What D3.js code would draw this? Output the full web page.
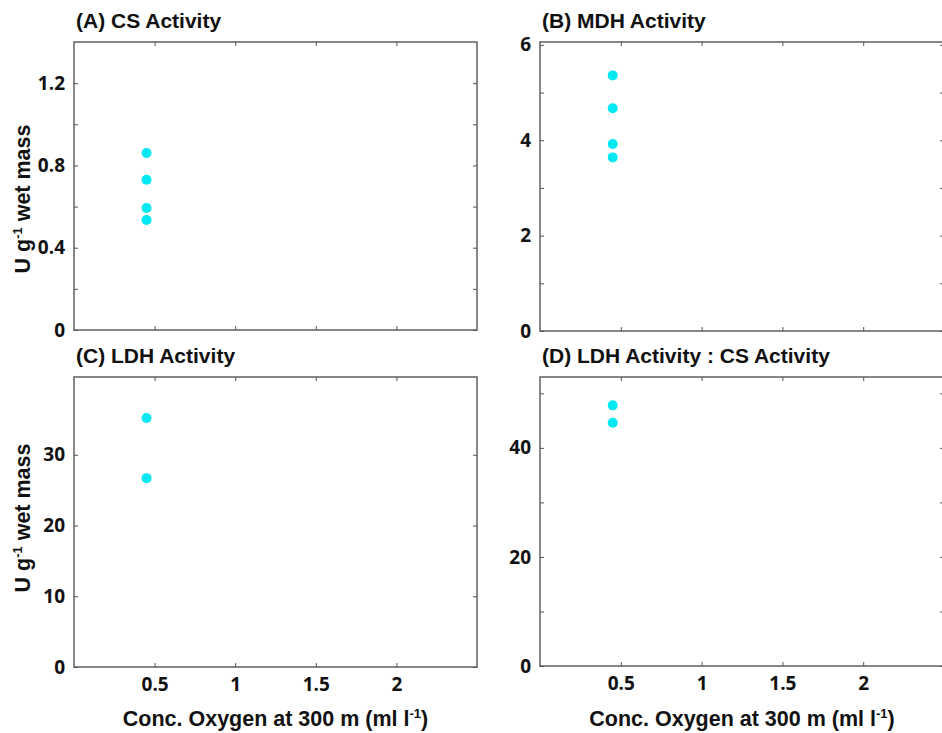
<!DOCTYPE html>
<html><head><meta charset="utf-8">
<script src="https://cdn.jsdelivr.net/npm/d3@7"></script>
<style>
html,body{margin:0;padding:0;background:#fff;}
svg{display:block;}
.title,.alabel{font-family:"Liberation Sans",Arial,sans-serif;font-weight:bold;fill:#111;}
.tick text{font-family:"Open Sans",sans-serif;font-weight:700;fill:#111;font-size:19px;}
</style>
</head><body>
<script>
// ---- data ----
const xTicks = [0.5, 1, 1.5, 2];
const xDomain = [0, 2.5];
const oxygen = 0.45;
const csValues = [0.86, 0.73, 0.593, 0.535];
const mdhValues = [5.36, 4.67, 3.92, 3.64];
const ldhValues = [35.2, 26.7];
const ratioValues = [47.8, 44.6];
const titles = ["(A) CS Activity", "(B) MDH Activity", "(C) LDH Activity", "(D) LDH Activity : CS Activity"];
const yDomains = [[0, 1.4], [0, 6.06], [0, 41], [0, 53]];
const yTicks = [[0, 0.2, 0.4, 0.6, 0.8, 1.0, 1.2], [0, 1, 2, 3, 4, 5, 6], [0, 10, 20, 30], [0, 10, 20, 30, 40, 50]];
const yTickLabels = [[0, 0.4, 0.8, 1.2], [0, 2, 4, 6], [0, 10, 20, 30], [0, 20, 40]];
const xLabel = "Conc. Oxygen at 300 m (ml l";
const yLabel = "U g";

const W = 942, H = 733;
const svg = d3.select("body").append("svg").attr("width", W).attr("height", H);

const panels = [
  {l: 74, r: 477, t: 42, b: 330, vals: csValues, ylab: true, xlab: false},
  {l: 540, r: 944, t: 42, b: 331, vals: mdhValues, ylab: false, xlab: false},
  {l: 74, r: 477, t: 377, b: 667, vals: ldhValues, ylab: true, xlab: true},
  {l: 540, r: 944, t: 377, b: 666, vals: ratioValues, ylab: false, xlab: true}
];

panels.forEach((p, i) => {
  const x = d3.scaleLinear().domain(xDomain).range([p.l, p.r]);
  const y = d3.scaleLinear().domain(yDomains[i]).range([p.b, p.t]);
  const g = svg.append("g");
  const lab = yTickLabels[i];
  const fmt = v => lab.some(L => Math.abs(L - v) < 1e-9) ? String(v) : "";

  // left axis
  g.append("g").attr("transform", `translate(${p.l},0)`)
    .call(d3.axisLeft(y).tickValues(yTicks[i]).tickSizeInner(-4).tickSizeOuter(0).tickPadding(9).tickFormat(fmt))
    .call(a => a.select(".domain").remove())
    .call(a => a.selectAll("line").attr("stroke", "#555"));
  // right axis ticks
  g.append("g").attr("transform", `translate(${p.r},0)`)
    .call(d3.axisRight(y).tickValues(yTicks[i]).tickSizeInner(-4).tickSizeOuter(0).tickFormat(""))
    .call(a => a.select(".domain").remove())
    .call(a => a.selectAll("line").attr("stroke", "#555"));
  // bottom axis
  g.append("g").attr("transform", `translate(0,${p.b})`)
    .call(d3.axisBottom(x).tickValues(xTicks).tickSizeInner(-4).tickSizeOuter(0).tickPadding(11)
      .tickFormat(p.xlab ? d3.format("") : ""))
    .call(a => a.select(".domain").remove())
    .call(a => a.selectAll("line").attr("stroke", "#555"));
  // top axis ticks
  g.append("g").attr("transform", `translate(0,${p.t})`)
    .call(d3.axisTop(x).tickValues(xTicks).tickSizeInner(-4).tickSizeOuter(0).tickFormat(""))
    .call(a => a.select(".domain").remove())
    .call(a => a.selectAll("line").attr("stroke", "#555"));
  // frame
  g.append("rect").attr("x", p.l).attr("y", p.t).attr("width", p.r - p.l).attr("height", p.b - p.t)
    .attr("fill", "none").attr("stroke", "#555").attr("stroke-width", 1.4);

  // points
  g.selectAll("circle.pt").data(p.vals).join("circle").attr("class", "pt")
    .attr("cx", x(oxygen)).attr("cy", d => y(d)).attr("r", 5).attr("fill", "#00e8f2");

  // title
  svg.append("text").attr("class", "title").attr("x", p.l + 2).attr("y", p.t - 14)
    .attr("font-size", 21).text(titles[i]);

  if (p.ylab) {
    const cy = (p.t + p.b) / 2 + (i === 0 ? 13 : -4);
    const t = svg.append("text").attr("class", "alabel").attr("font-size", 21.5)
      .attr("text-anchor", "middle").attr("transform", `translate(30,${cy}) rotate(-90)`);
    t.append("tspan").text(yLabel);
    t.append("tspan").attr("font-size", 13).attr("dy", -8).text("-1");
    t.append("tspan").attr("dy", 8).text(" wet mass");
  }
  if (p.xlab) {
    const t = svg.append("text").attr("class", "alabel").attr("font-size", 21.5)
      .attr("text-anchor", "middle").attr("x", (p.l + p.r) / 2).attr("y", 726);
    t.append("tspan").text(xLabel);
    t.append("tspan").attr("font-size", 13).attr("dy", -8).text("-1");
    t.append("tspan").attr("dy", 8).text(")");
  }
});
</script>
</body></html>
